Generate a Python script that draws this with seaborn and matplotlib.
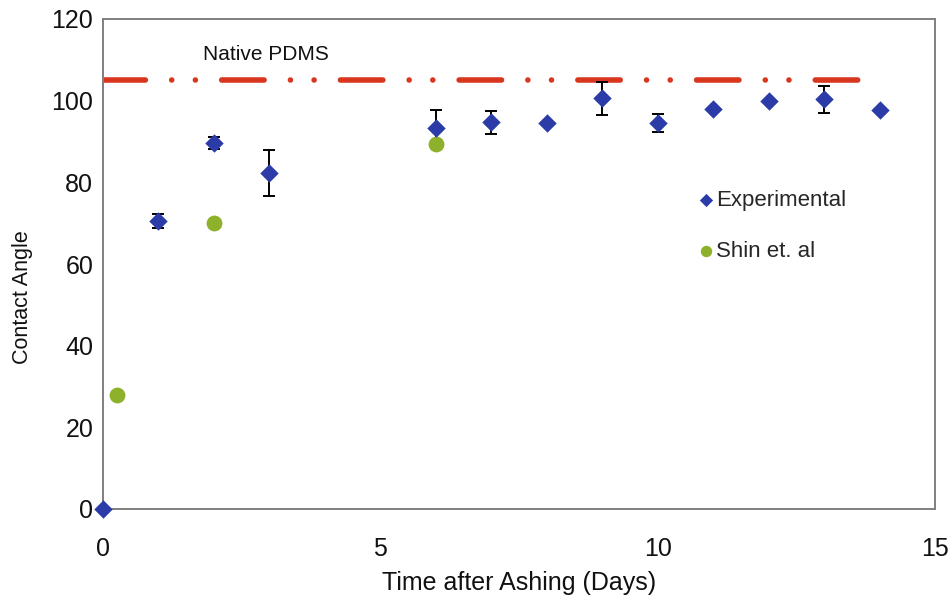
import numpy as np
import pandas as pd
import matplotlib
matplotlib.use("Agg")
import matplotlib.pyplot as plt
import seaborn as sns

# ---- data ----
exp_days = [0, 1, 2, 3, 6, 7, 8, 9, 10, 11, 12, 13, 14]
exp_angle = [0, 70.5, 89.6, 82.3, 93.3, 94.7, 94.5, 100.6, 94.6, 98.0, 99.8, 100.3, 97.8]
exp_err = [0, 1.8, 1.5, 5.7, 4.5, 2.8, 0, 4.0, 2.2, 0, 0, 3.3, 0]

shin_days = [0.25, 2, 6]
shin_angle = [28, 70, 89.5]

native_pdms = 105.0
native_x = [0, 13.85]

x_ticks = [0, 5, 10, 15]
y_ticks = [0, 20, 40, 60, 80, 100, 120]

BLUE = "#2B3BA8"
GREEN = "#8DB12B"
RED = "#D8361F"
GRAY = "#7F7F7F"

sns.set_style("white")
plt.rcParams["font.family"] = ["Liberation Sans", "DejaVu Sans"]

fig = plt.figure(figsize=(9.5, 5.97), dpi=100)
ax = fig.add_axes([103 / 950, 1 - 509 / 597, 832 / 950, 490 / 597])

# Native PDMS dash-dot line
lw = 4.0
px = lw * 100 / 72
pattern = (42.4 / px, 26.3 / px, 0.01, 23.6 / px, 0.01, 26.3 / px)
ax.plot(native_x, [native_pdms, native_pdms], color=RED, lw=lw,
        linestyle=(0, pattern), dash_capstyle="round", solid_capstyle="round", zorder=2)
ax.text(1.80, 111.3, "Native PDMS", fontsize=15, ha="left", va="center", color="#111111")

# error bars
err = np.array(exp_err)
mask = err > 0
ax.errorbar(np.array(exp_days)[mask], np.array(exp_angle)[mask], yerr=err[mask],
            fmt="none", ecolor="black", elinewidth=1.4, capsize=4, capthick=1.4, zorder=3)

df_exp = pd.DataFrame({"day": exp_days, "angle": exp_angle})
df_shin = pd.DataFrame({"day": shin_days, "angle": shin_angle})

sns.scatterplot(data=df_shin, x="day", y="angle", ax=ax, marker="o", s=130,
                color=GREEN, edgecolor=GREEN, linewidth=0, label="Shin et. al",
                zorder=4, clip_on=False)
sns.scatterplot(data=df_exp, x="day", y="angle", ax=ax, marker="D", s=88,
                color=BLUE, edgecolor=BLUE, linewidth=0, label="Experimental",
                zorder=5, clip_on=False)

ax.set_xlim(0, 15)
ax.set_ylim(0, 120)
ax.set_xticks(x_ticks)
ax.set_yticks(y_ticks)
ax.tick_params(axis="both", direction="in", length=6, width=1.2, color=GRAY,
               labelsize=18, labelcolor="#111111")
ax.tick_params(axis="y", pad=7)
ax.tick_params(axis="x", pad=20)
for sp in ax.spines.values():
    sp.set_visible(True)
    sp.set_color(GRAY)
    sp.set_linewidth(1.4)

ax.set_xlabel("Time after Ashing (Days)", fontsize=18, color="#111111")
ax.set_ylabel("Contact Angle", fontsize=15.5, color="#111111")
ax.yaxis.label.set_va("center")
ax.yaxis.set_label_coords(-0.097, 0.433)
ax.xaxis.label.set_va("top")
ax.xaxis.set_label_coords(0.5, -0.127)

h, l = ax.get_legend_handles_labels()
order = [l.index("Experimental"), l.index("Shin et. al")]
ax.legend([h[i] for i in order], [l[i] for i in order], frameon=False,
          loc="upper left", bbox_to_anchor=(0.718, 0.652), borderpad=0, borderaxespad=0,
          handlelength=0.5, handletextpad=0.2, labelspacing=1.35, fontsize=16,
          markerscale=0.72)

fig.savefig("out.png", dpi=100)
